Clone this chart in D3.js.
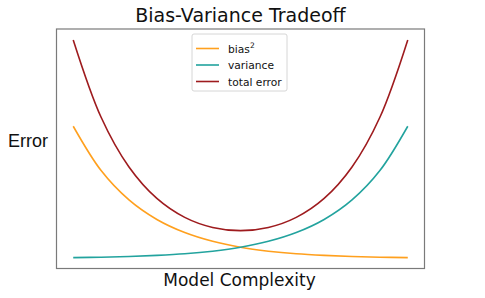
<!DOCTYPE html>
<html>
<head>
<meta charset="utf-8">
<script src="https://cdn.jsdelivr.net/npm/d3@7"></script>
<style>
  body { margin: 0; background: #fff; }
  text { font-family: "DejaVu Sans", sans-serif; fill: #111; }
</style>
</head>
<body>
<div id="chart"></div>
<script>
var w = 485;
var h = 298;

// Model complexity steps (arbitrary units) and error
var complexity = [0, 1, 2, 3, 4, 5, 6, 7, 8, 9, 10, 11, 12];
var bias2 = [138.3, 93.9, 64.5, 44.9, 31.8, 23.0, 17.0, 13.1, 10.5, 8.9, 7.8, 7.1, 6.7];
var variance = [6.7, 7.1, 7.8, 8.9, 10.5, 13.1, 17.0, 23.0, 31.8, 44.9, 64.5, 93.9, 138.3];
var totalError = [224.8, 147.3, 97.5, 66.0, 47.0, 36.9, 33.7, 36.9, 47.0, 66.0, 97.5, 147.3, 224.8];

var seriesNames = ["bias", "variance", "total error"];
var seriesColors = ["#ffa01e", "#22a39e", "#9e1b1e"];
var seriesValues = [bias2, variance, totalError];

// plot area box (note: "top" is reserved on window, so use plotTop)
var plotLeft = 56.5, plotRight = 424.5, plotTop = 29, plotBottom = 268.5;

var svg = d3.select("#chart")
    .append("svg")
    .attr("width", w)
    .attr("height", h);

// matplotlib-like 5% padding around data
var xExt = d3.extent(complexity);
var xPad = (xExt[1] - xExt[0]) * 0.05;
var xScale = d3.scaleLinear()
    .domain([xExt[0] - xPad, xExt[1] + xPad])
    .range([plotLeft, plotRight]);

var allVals = bias2.concat(variance, totalError);
var yExt = d3.extent(allVals);
var yPad = (yExt[1] - yExt[0]) * 0.05;
var yScale = d3.scaleLinear()
    .domain([yExt[0] - yPad, yExt[1] + yPad])
    .range([plotBottom, plotTop]);

var line = d3.line()
    .x(function(d, i) { return xScale(complexity[i]); })
    .y(function(d) { return yScale(d); })
    .curve(d3.curveCatmullRom.alpha(0.5));

seriesValues.forEach(function(vals, k) {
    svg.append("path")
        .datum(vals)
        .attr("d", line)
        .style("fill", "none")
        .style("stroke", seriesColors[k])
        .style("stroke-width", 1.6);
});

// frame (no ticks)
svg.append("rect")
    .attr("x", plotLeft)
    .attr("y", plotTop)
    .attr("width", plotRight - plotLeft)
    .attr("height", plotBottom - plotTop)
    .style("fill", "none")
    .style("stroke", "#7a7a7a")
    .style("stroke-width", 1.2);

// title and labels
svg.append("text")
    .attr("x", (plotLeft + plotRight) / 2)
    .attr("y", 22)
    .attr("text-anchor", "middle")
    .style("font-size", "19px")
    .text("Bias-Variance Tradeoff");

svg.append("text")
    .attr("x", (plotLeft + plotRight) / 2 - 1)
    .attr("y", 286)
    .attr("text-anchor", "middle")
    .style("font-size", "17px")
    .text("Model Complexity");

svg.append("text")
    .attr("x", 8)
    .attr("y", 147)
    .style("font-family", "'Liberation Sans', Arial, sans-serif")
    .style("font-size", "18px")
    .text("Error");

// legend
var legend = svg.append("g").attr("transform", "translate(192,34)");
legend.append("rect")
    .attr("width", 95)
    .attr("height", 57)
    .attr("rx", 2)
    .style("fill", "#fff")
    .style("fill-opacity", 0.8)
    .style("stroke", "#d6d6d6")
    .style("stroke-width", 1);

seriesNames.forEach(function(name, k) {
    var yy = 14.5 + k * 16.5;
    legend.append("line")
        .attr("x1", 4).attr("x2", 27)
        .attr("y1", yy).attr("y2", yy)
        .style("stroke", seriesColors[k])
        .style("stroke-width", 1.6);
    var t = legend.append("text")
        .attr("x", 36)
        .attr("y", yy + 4)
        .style("font-size", "10.7px")
        .text(name);
    if (k === 0) {
        t.append("tspan")
            .attr("dy", -4.5)
            .style("font-size", "7.5px")
            .text("2");
    }
});
</script>
</body>
</html>
